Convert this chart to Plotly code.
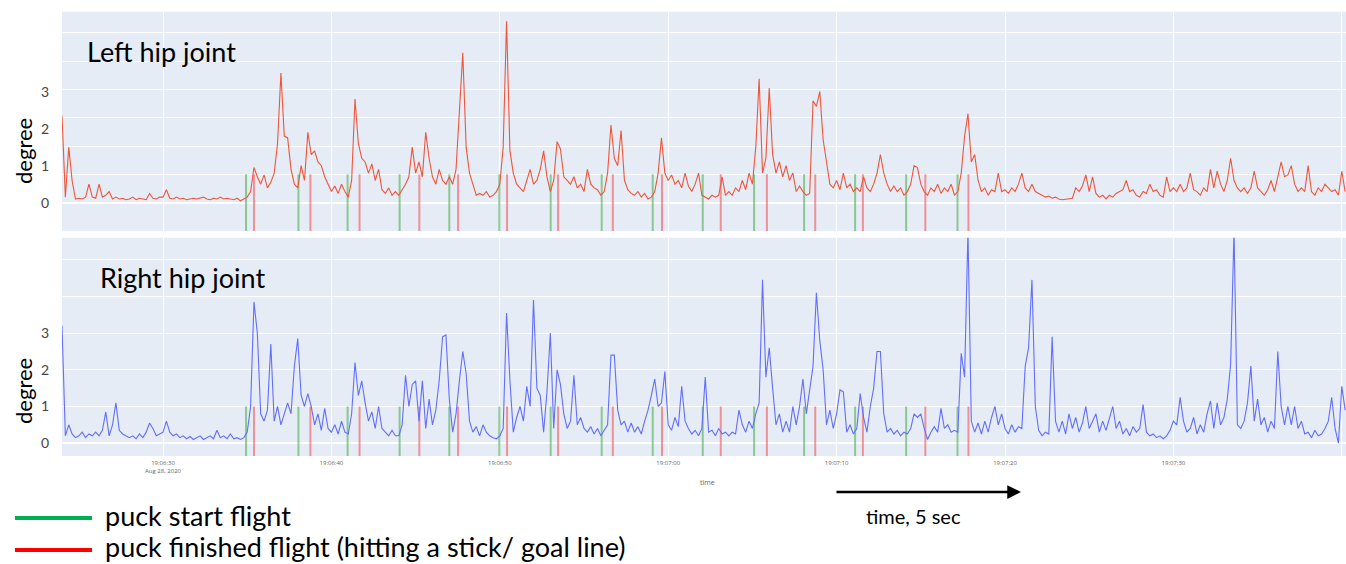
import numpy as np
import pandas as pd
import plotly.graph_objects as go

# ---------------- data ----------------
SAMPLE_START = "2020-08-28 19:06:24"
SAMPLE_STEP_S = 0.2

left_hip = [
    2.35,0.15,1.5,0.6,0.1,0.12,0.1,0.15,0.5,0.15,
    0.12,0.5,0.15,0.2,0.3,0.1,0.15,0.1,0.12,0.08,
    0.1,0.15,0.08,0.12,0.1,0.08,0.25,0.12,0.1,0.15,
    0.15,0.35,0.12,0.1,0.15,0.1,0.12,0.08,0.1,0.12,
    0.1,0.12,0.15,0.1,0.08,0.12,0.1,0.15,0.1,0.12,
    0.1,0.08,0.12,0.05,0.1,0.15,0.3,0.95,0.7,0.5,
    0.75,0.4,0.55,0.8,1.6,3.5,1.8,1.75,0.9,0.5,
    0.4,1.0,0.6,1.9,1.3,1.4,1.1,1.0,0.7,0.5,
    0.3,0.45,0.25,0.5,0.3,0.15,0.6,2.8,1.6,1.2,
    1.1,0.8,1.05,0.6,0.9,0.35,0.25,0.4,0.2,0.3,
    0.2,0.35,0.5,0.7,1.5,0.8,1.1,0.7,1.9,1.2,
    0.7,0.5,0.9,0.6,0.5,0.7,0.5,0.9,2.5,4.05,
    1.5,0.8,0.5,0.2,0.25,0.2,0.3,0.15,0.2,0.3,
    0.5,1.5,4.9,1.4,0.8,0.5,0.4,0.3,0.6,0.9,
    0.5,0.6,0.9,1.4,0.7,0.3,0.6,1.65,1.45,0.7,
    0.6,0.5,0.7,0.4,0.5,0.3,0.9,0.5,0.4,0.35,
    0.2,0.3,0.8,2.1,1.2,1.0,1.95,0.6,0.35,0.25,
    0.2,0.3,0.15,0.25,0.1,0.15,0.3,0.8,1.75,0.8,
    0.6,0.75,0.5,0.6,0.4,0.8,0.45,0.3,0.5,0.8,
    0.2,0.15,0.1,0.2,0.15,0.2,0.7,0.2,0.3,0.2,
    0.4,0.3,0.6,0.35,0.8,0.5,1.5,3.35,0.8,1.2,
    3.1,1.3,0.8,1.1,0.7,1.0,0.6,0.8,0.3,0.45,
    0.3,0.2,0.25,2.75,2.6,3.0,1.7,1.1,0.5,0.4,
    0.6,0.35,0.8,0.4,0.5,0.3,0.4,0.3,0.7,0.4,
    0.3,0.5,0.8,1.3,0.8,0.5,0.3,0.45,0.3,0.4,
    0.2,0.3,0.5,1.0,0.95,0.5,0.3,0.2,0.4,0.3,
    0.5,0.25,0.4,0.3,0.5,0.2,0.3,0.8,1.8,2.4,
    1.1,1.3,0.6,0.3,0.4,0.2,0.35,0.3,0.8,0.3,
    0.35,0.25,0.4,0.3,0.5,0.8,0.4,0.3,0.5,0.3,
    0.25,0.2,0.15,0.18,0.12,0.15,0.1,0.08,0.1,0.12,
    0.12,0.4,0.3,0.45,0.75,0.3,0.7,0.25,0.15,0.2,
    0.1,0.2,0.15,0.25,0.3,0.35,0.6,0.3,0.35,0.2,
    0.15,0.3,0.25,0.5,0.3,0.35,0.2,0.15,0.7,0.3,
    0.4,0.3,0.5,0.3,0.4,0.8,0.35,0.3,0.2,0.4,
    0.3,0.9,0.4,0.85,0.5,0.3,0.6,1.2,0.6,0.4,
    0.3,0.4,0.25,0.4,0.85,0.4,0.3,0.2,0.35,0.6,
    0.3,0.7,1.1,0.7,0.75,1.0,0.5,0.3,0.4,0.3,
    1.0,0.3,0.2,0.4,0.3,0.5,0.4,0.3,0.35,0.2,
    0.85,0.3,
]

right_hip = [
    3.2,0.2,0.5,0.25,0.15,0.2,0.3,0.15,0.25,0.2,
    0.3,0.2,0.35,0.85,0.2,0.5,1.1,0.35,0.25,0.2,
    0.15,0.2,0.12,0.25,0.15,0.3,0.55,0.4,0.2,0.25,
    0.3,0.6,0.3,0.2,0.25,0.15,0.2,0.12,0.18,0.1,
    0.15,0.2,0.1,0.15,0.2,0.12,0.35,0.15,0.2,0.12,
    0.25,0.12,0.15,0.1,0.15,0.3,1.0,3.85,3.0,0.8,
    0.6,0.9,2.7,0.6,1.0,0.5,0.8,1.1,0.8,2.1,
    2.85,1.3,1.0,1.35,1.0,0.5,0.8,0.35,0.95,0.4,
    0.3,0.5,0.25,0.6,0.3,0.25,0.8,2.2,1.3,1.7,
    1.1,0.6,0.85,0.4,1.0,0.4,0.3,0.2,0.35,0.2,
    0.2,0.5,1.85,1.0,1.6,1.7,0.6,1.7,0.4,1.2,
    0.5,0.9,1.7,2.9,2.95,1.2,0.3,0.8,1.7,2.5,
    1.9,0.6,0.3,0.45,0.2,0.5,0.3,0.2,0.15,0.12,
    0.2,0.4,3.55,1.7,0.3,0.7,1.0,0.6,1.55,1.0,
    3.9,1.5,1.3,0.3,1.4,3.0,0.4,2.0,1.6,0.8,
    0.4,0.6,1.85,0.5,0.7,0.4,0.3,0.45,0.25,0.4,
    0.2,0.35,0.5,2.4,2.4,0.9,0.5,0.6,0.3,0.55,
    0.3,0.45,0.25,0.6,0.9,1.3,1.75,1.0,1.1,1.95,
    0.5,0.35,0.7,0.45,1.55,0.6,0.4,0.25,0.35,0.2,
    0.4,1.8,0.3,0.35,0.2,0.4,0.25,0.3,0.2,0.3,
    0.25,0.9,0.5,0.3,0.6,0.4,0.8,1.1,4.45,1.8,
    2.6,1.5,0.5,0.8,0.3,0.6,0.3,1.0,0.5,1.0,
    1.75,0.8,1.5,2.1,4.1,2.8,2.0,0.5,0.9,0.4,
    0.8,1.45,1.4,0.3,0.5,0.25,0.4,1.35,0.7,0.3,
    1.0,1.5,2.5,2.5,0.8,0.3,0.4,0.25,0.35,0.2,
    0.3,0.25,0.4,0.8,0.7,0.8,0.4,0.1,0.3,0.45,
    0.3,0.95,0.4,0.5,0.3,0.35,0.3,2.45,1.8,5.8,
    0.6,0.3,0.55,0.25,0.6,0.3,0.7,1.0,0.5,0.8,
    0.4,0.25,0.5,0.3,0.45,0.4,2.1,2.6,4.45,1.0,
    0.35,0.2,0.3,0.25,2.9,0.6,0.3,0.6,0.25,0.8,
    0.4,0.7,0.3,0.55,1.0,0.4,0.6,0.8,0.3,0.6,
    0.35,0.7,1.0,0.4,0.6,0.25,0.4,0.2,0.45,0.3,
    0.4,1.05,0.3,0.2,0.25,0.15,0.2,0.12,0.2,0.35,
    0.6,0.5,1.25,0.6,0.3,0.4,0.7,0.25,0.5,0.3,
    0.8,1.15,0.4,1.1,0.5,0.7,1.2,2.15,5.8,0.5,
    0.4,0.6,1.1,2.1,0.6,1.2,0.5,0.7,0.3,0.6,
    0.4,2.5,1.0,0.5,1.0,0.5,1.0,0.4,0.6,0.25,
    0.3,0.15,0.35,0.2,0.25,0.4,0.6,1.25,0.4,0.0,
    1.55,0.9,
]

# event times, seconds after 19:06:00
puck_start_s = [34.93, 38.04, 40.96, 44.05, 47.0, 49.97, 53.02, 56.05,
                59.08, 62.05, 65.1, 68.07, 71.1, 74.13, 77.18]
puck_finish_s = [35.4, 38.75, 41.67, 45.22, 47.52, 50.43, 53.46, 56.71,
                 59.63, 63.12, 65.86, 68.73, 71.56, 75.27, 77.83]

y_tick_labels = ["0", "1", "2", "3"]

# ---------------- build ----------------
t0 = pd.Timestamp(SAMPLE_START)
base = pd.Timestamp("2020-08-28 19:06:00")
times = [t0 + pd.Timedelta(seconds=round(i * SAMPLE_STEP_S, 3)) for i in range(len(left_hip))]
times_r = [t0 + pd.Timedelta(seconds=round(i * SAMPLE_STEP_S, 3)) for i in range(len(right_hip))]

def ev_xy(secs, lo, hi):
    xs, ys = [], []
    for s in secs:
        t = base + pd.Timedelta(seconds=s)
        xs += [t, t, None]
        ys += [lo, hi, None]
    return xs, ys

W, H = 1346, 564
def px(x):
    return x / W
def py(y):
    return (H - y) / H

GREEN_EV = "rgba(60,170,60,0.55)"
RED_EV = "rgba(245,70,70,0.55)"

fig = go.Figure()

# event lines (top panel)
for secs, col in ((puck_start_s, GREEN_EV), (puck_finish_s, RED_EV)):
    xs, ys = ev_xy(secs, -1.0, 0.765)
    fig.add_trace(go.Scatter(x=xs, y=ys, mode="lines", line=dict(color=col, width=2),
                             xaxis="x", yaxis="y", showlegend=False, hoverinfo="skip"))
fig.add_trace(go.Scatter(x=times, y=left_hip, mode="lines",
                         line=dict(color="#EF553B", width=1.1),
                         xaxis="x", yaxis="y", showlegend=False))

# event lines (bottom panel)
for secs, col in ((puck_start_s, GREEN_EV), (puck_finish_s, RED_EV)):
    xs, ys = ev_xy(secs, -1.0, 1.0)
    fig.add_trace(go.Scatter(x=xs, y=ys, mode="lines", line=dict(color=col, width=2),
                             xaxis="x2", yaxis="y2", showlegend=False, hoverinfo="skip"))
fig.add_trace(go.Scatter(x=times_r, y=right_hip, mode="lines",
                         line=dict(color="#636EFA", width=1.1),
                         xaxis="x2", yaxis="y2", showlegend=False))

x_range = ["2020-08-28 19:06:24.000", "2020-08-28 19:07:40.250"]
x_dom = [62 / W, 1.0]
xcommon = dict(domain=x_dom, range=x_range, type="date", dtick=10000,
               tick0="2020-08-28 19:06:30", gridcolor="white", gridwidth=1,
               showline=False, zeroline=False)

fig.update_layout(
    width=W, height=H, autosize=False,
    margin=dict(l=0, r=0, t=0, b=0, pad=0),
    paper_bgcolor="white", plot_bgcolor="#E5ECF6",
    showlegend=False,
    font=dict(family="Lato, Open Sans, sans-serif", color="#444"),
    xaxis=dict(**xcommon, anchor="y", showticklabels=False),
    xaxis2=dict(**xcommon, anchor="y2", showticklabels=True,
                tickfont=dict(size=6, color="#666", family="Open Sans"),
                ticks="", ticklabelstandoff=2),
    yaxis=dict(domain=[py(231), py(11.7)], range=[-0.765, 5.16],
               tickvals=[0, 1, 2, 3], ticktext=y_tick_labels,
               showgrid=False, zeroline=True, zerolinecolor="white", zerolinewidth=2,
               ticks="outside", ticklen=9, tickcolor="rgba(0,0,0,0)",
               tickfont=dict(size=14, color="#444", family="Lato"),
               minor=dict(tickvals=[0.765, 1.53, 2.295, 3.06, 3.825, 4.59],
                          showgrid=True, gridcolor="white", gridwidth=1, ticks="")),
    yaxis2=dict(domain=[py(456), py(237.7)], range=[-0.35, 5.6],
                tickvals=[0, 1, 2, 3, 4, 5], ticktext=y_tick_labels + ["", ""],
                showgrid=True, gridcolor="white", gridwidth=1,
                zeroline=True, zerolinecolor="white", zerolinewidth=2,
                ticks="outside", ticklen=9, tickcolor="rgba(0,0,0,0)",
                tickfont=dict(size=14, color="#444", family="Lato")),
)

ann = []
def text(x, y, s, size, color="black", xanchor="left", angle=0, family="Lato"):
    ann.append(dict(x=px(x), y=py(y), xref="paper", yref="paper", text=s,
                    showarrow=False, xanchor=xanchor, yanchor="middle",
                    textangle=angle, font=dict(size=size, color=color, family=family)))

text(85, 51, "Left hip joint", 27)
text(98, 277, "Right hip joint", 27)
text(24, 151, "degree", 22, xanchor="center", angle=-90)
text(24, 391, "degree", 22, xanchor="center", angle=-90)
text(707, 482, "time", 7, color="#666", xanchor="center", family="Open Sans")
text(913, 516, "time, 5 sec", 20, xanchor="center")
text(103, 515, "puck start flight", 27)
text(103, 546, "puck finished flight (hitting a stick/ goal line)", 27)

# arrow for time scale
ann.append(dict(x=px(1021), y=py(492), ax=-(1021 - 835), ay=0,
                xref="paper", yref="paper", axref="pixel", ayref="pixel",
                text="", showarrow=True, arrowhead=2, arrowsize=1.1,
                arrowwidth=2.5, arrowcolor="black"))
fig.update_layout(annotations=ann)

fig.update_layout(shapes=[
    dict(type="line", xref="paper", yref="paper", x0=px(15), x1=px(92),
         y0=py(518), y1=py(518), line=dict(color="#00B050", width=4)),
    dict(type="line", xref="paper", yref="paper", x0=px(15), x1=px(92),
         y0=py(550), y1=py(550), line=dict(color="#FF0000", width=4)),
])

fig.write_html("out.html", config={"displayModeBar": False},
               post_script="document.body.style.margin='0';document.body.style.overflow='hidden';")
